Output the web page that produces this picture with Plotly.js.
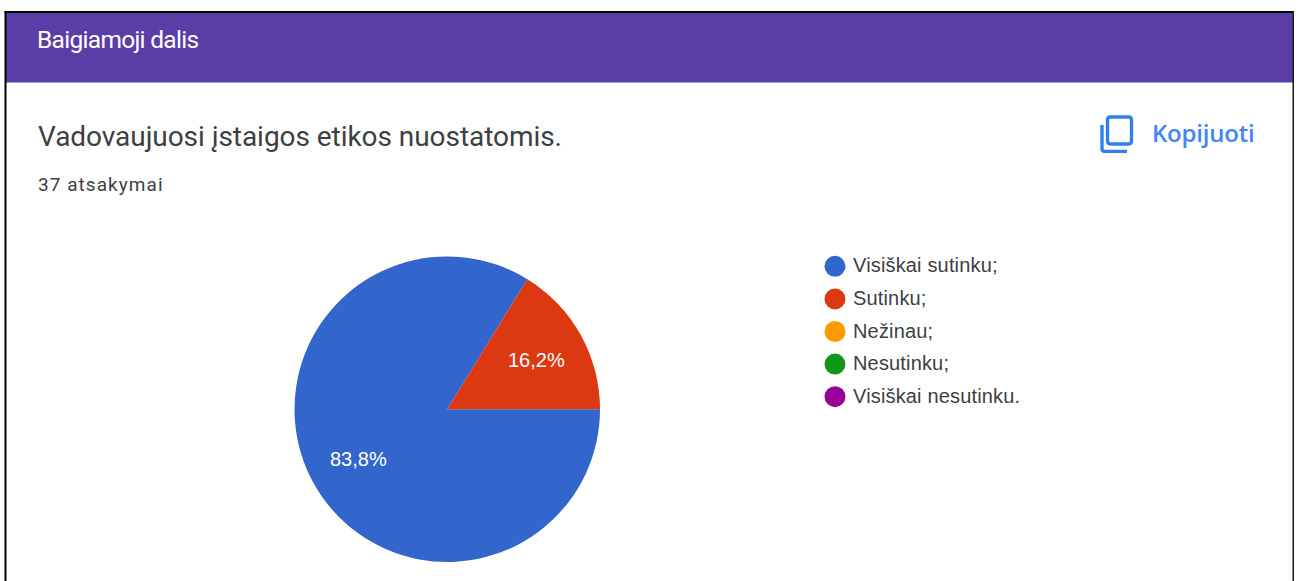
<!DOCTYPE html>
<html>
<head>
<meta charset="utf-8">
<script src="https://cdn.plot.ly/plotly-3.0.1.min.js"></script>
<style>
html,body{margin:0;padding:0;background:#fff;overflow:hidden}
#chart{width:1299px;height:581px}
.annotation[data-index="0"] text{letter-spacing:-.7px}
.annotation[data-index="1"] text{letter-spacing:-.05px}
.annotation[data-index="2"] text{letter-spacing:1.05px}
.annotation[data-index="3"] text{letter-spacing:-.2px}
.textpoint text{letter-spacing:.16px}
</style>
</head>
<body>
<div id="chart"></div>
<script>
const categories = ['Visiškai sutinku;', 'Sutinku;', 'Nežinau;', 'Nesutinku;', 'Visiškai nesutinku.'];
const responses = [31, 6, 0, 0, 0];
const colors = ['#3366cc', '#dc3912', '#ff9900', '#109618', '#990099'];
const sectionTitle = 'Baigiamoji dalis';
const question = 'Vadovaujuosi įstaigos etikos nuostatomis.';
const answerCount = '37 atsakymai';
const copyLabel = 'Kopijuoti';

const W = 1299, H = 581;
const px = x => x / W, py = y => 1 - y / H;
const shapePath = (segs, line) => ({type: 'path', xref: 'paper', yref: 'paper', layer: 'above',
  path: segs.map(s => typeof s === 'string' ? s : px(s[0]) + ',' + py(s[1])).join(' '),
  line: line});
const rect = (x0, y0, x1, y1, fill) => ({type: 'rect', xref: 'paper', yref: 'paper', layer: 'below',
  x0: px(x0), x1: px(x1), y0: py(y0), y1: py(y1), fillcolor: fill, line: {width: 0}});
const label = (x, y, text, size, color, family, weight) => ({xref: 'paper', yref: 'paper', x: px(x), y: py(y),
  xanchor: 'left', yanchor: 'middle', showarrow: false, text: text, align: 'left',
  font: {size: size, color: color, family: family, weight: weight || 400}});

const pieBox = {l: 294.5, r: 600, t: 256.5, b: 562};
const pie = {
  type: 'pie', labels: categories, values: responses, marker: {colors: colors},
  sort: false, direction: 'clockwise', rotation: 90, showlegend: false,
  textinfo: 'none', textposition: 'none',
  domain: {x: [px(pieBox.l), px(pieBox.r)], y: [py(pieBox.b), py(pieBox.t)]},
  hoverinfo: 'label+percent'
};
const legendDots = {
  type: 'scatter', mode: 'markers', x: categories.map(() => 0), y: categories,
  cliponaxis: false, showlegend: false,
  marker: {size: 21, color: colors, line: {width: 0}},
  hoverinfo: 'skip', xaxis: 'x', yaxis: 'y'
};
const legendText = {
  type: 'scatter', mode: 'text', x: categories.map(() => 0.068), y: categories,
  text: categories, textposition: 'middle right', cliponaxis: false, showlegend: false,
  textfont: {size: 20, color: '#3c4043', family: 'Liberation Sans, Arial, sans-serif'},
  hoverinfo: 'text', xaxis: 'x', yaxis: 'y2'
};

// Slice labels sit at the same fraction of the radius along each slice's mid-angle.
const total = responses.reduce((a, b) => a + b, 0);
const cx = (pieBox.l + pieBox.r) / 2, cy = (pieBox.t + pieBox.b) / 2, radius = (pieBox.r - pieBox.l) / 2;
let running = 0;
const sliceLabels = [];
responses.forEach(v => {
  if (v > 0) {
    const mid = (90 + (running + v / 2) / total * 360) * Math.PI / 180;
    sliceLabels.push({xref: 'paper', yref: 'paper', showarrow: false,
      x: px(cx + 0.667 * radius * Math.sin(mid)), y: py(cy - 0.667 * radius * Math.cos(mid)),
      xanchor: 'center', yanchor: 'middle',
      text: (v / total * 100).toFixed(1).replace('.', ',') + '%',
      font: {size: 20, color: '#ffffff', family: 'Liberation Sans, Arial, sans-serif'}});
  }
  running += v;
});

const layout = {
  width: W, height: H, margin: {l: 0, r: 0, t: 0, b: 0},
  paper_bgcolor: '#ffffff', plot_bgcolor: 'rgba(0,0,0,0)', separators: ', ',
  showlegend: false,
  xaxis: {domain: [px(835), px(1100)], range: [0, 1], visible: false, fixedrange: true},
  yaxis: {domain: [py(413), py(250)], type: 'category', categoryorder: 'array', categoryarray: categories,
          range: [4.5, -0.5], visible: false, fixedrange: true},
  yaxis2: {domain: [py(414), py(251)], type: 'category', categoryorder: 'array', categoryarray: categories,
          range: [4.5, -0.5], visible: false, fixedrange: true, anchor: 'x', overlaying: false},
  shapes: [
    rect(5, 12, 1293, 82.5, '#5a3da6'),
    rect(4.5, 11, 1294, 13, '#000000'),
    rect(4.5, 11, 6.5, 581, '#000000'),
    rect(1292.5, 11, 1294, 581, '#1a1a1a'),
    shapePath(['M', [1102, 125], 'L', [1102, 149], 'Q', [1102, 151.3], [1104.5, 151.3], 'L', [1127, 151.3]],
      {color: '#2f80ed', width: 3.3}),
    shapePath(['M', [1110.5, 117], 'L', [1128.5, 117], 'Q', [1131.5, 117], [1131.5, 120], 'L', [1131.5, 141],
      'Q', [1131.5, 144], [1128.5, 144], 'L', [1110.5, 144], 'Q', [1107.5, 144], [1107.5, 141],
      'L', [1107.5, 120], 'Q', [1107.5, 117], [1110.5, 117], 'Z'], {color: '#2f80ed', width: 3.3})
  ],
  annotations: [
    label(35, 40, sectionTitle, 24.5, '#ffffff', 'Roboto, sans-serif'),
    label(36, 137, question, 28, '#3c4043', 'Roboto, sans-serif'),
    label(36, 185, answerCount, 19, '#3c4043', 'Roboto, sans-serif'),
    label(1150, 132.5, copyLabel, 24, '#4285f4', 'Open Sans, sans-serif', 600)
  ].concat(sliceLabels)
};
Plotly.newPlot('chart', [pie, legendDots, legendText], layout, {displayModeBar: false, staticPlot: true});
</script>
</body>
</html>
